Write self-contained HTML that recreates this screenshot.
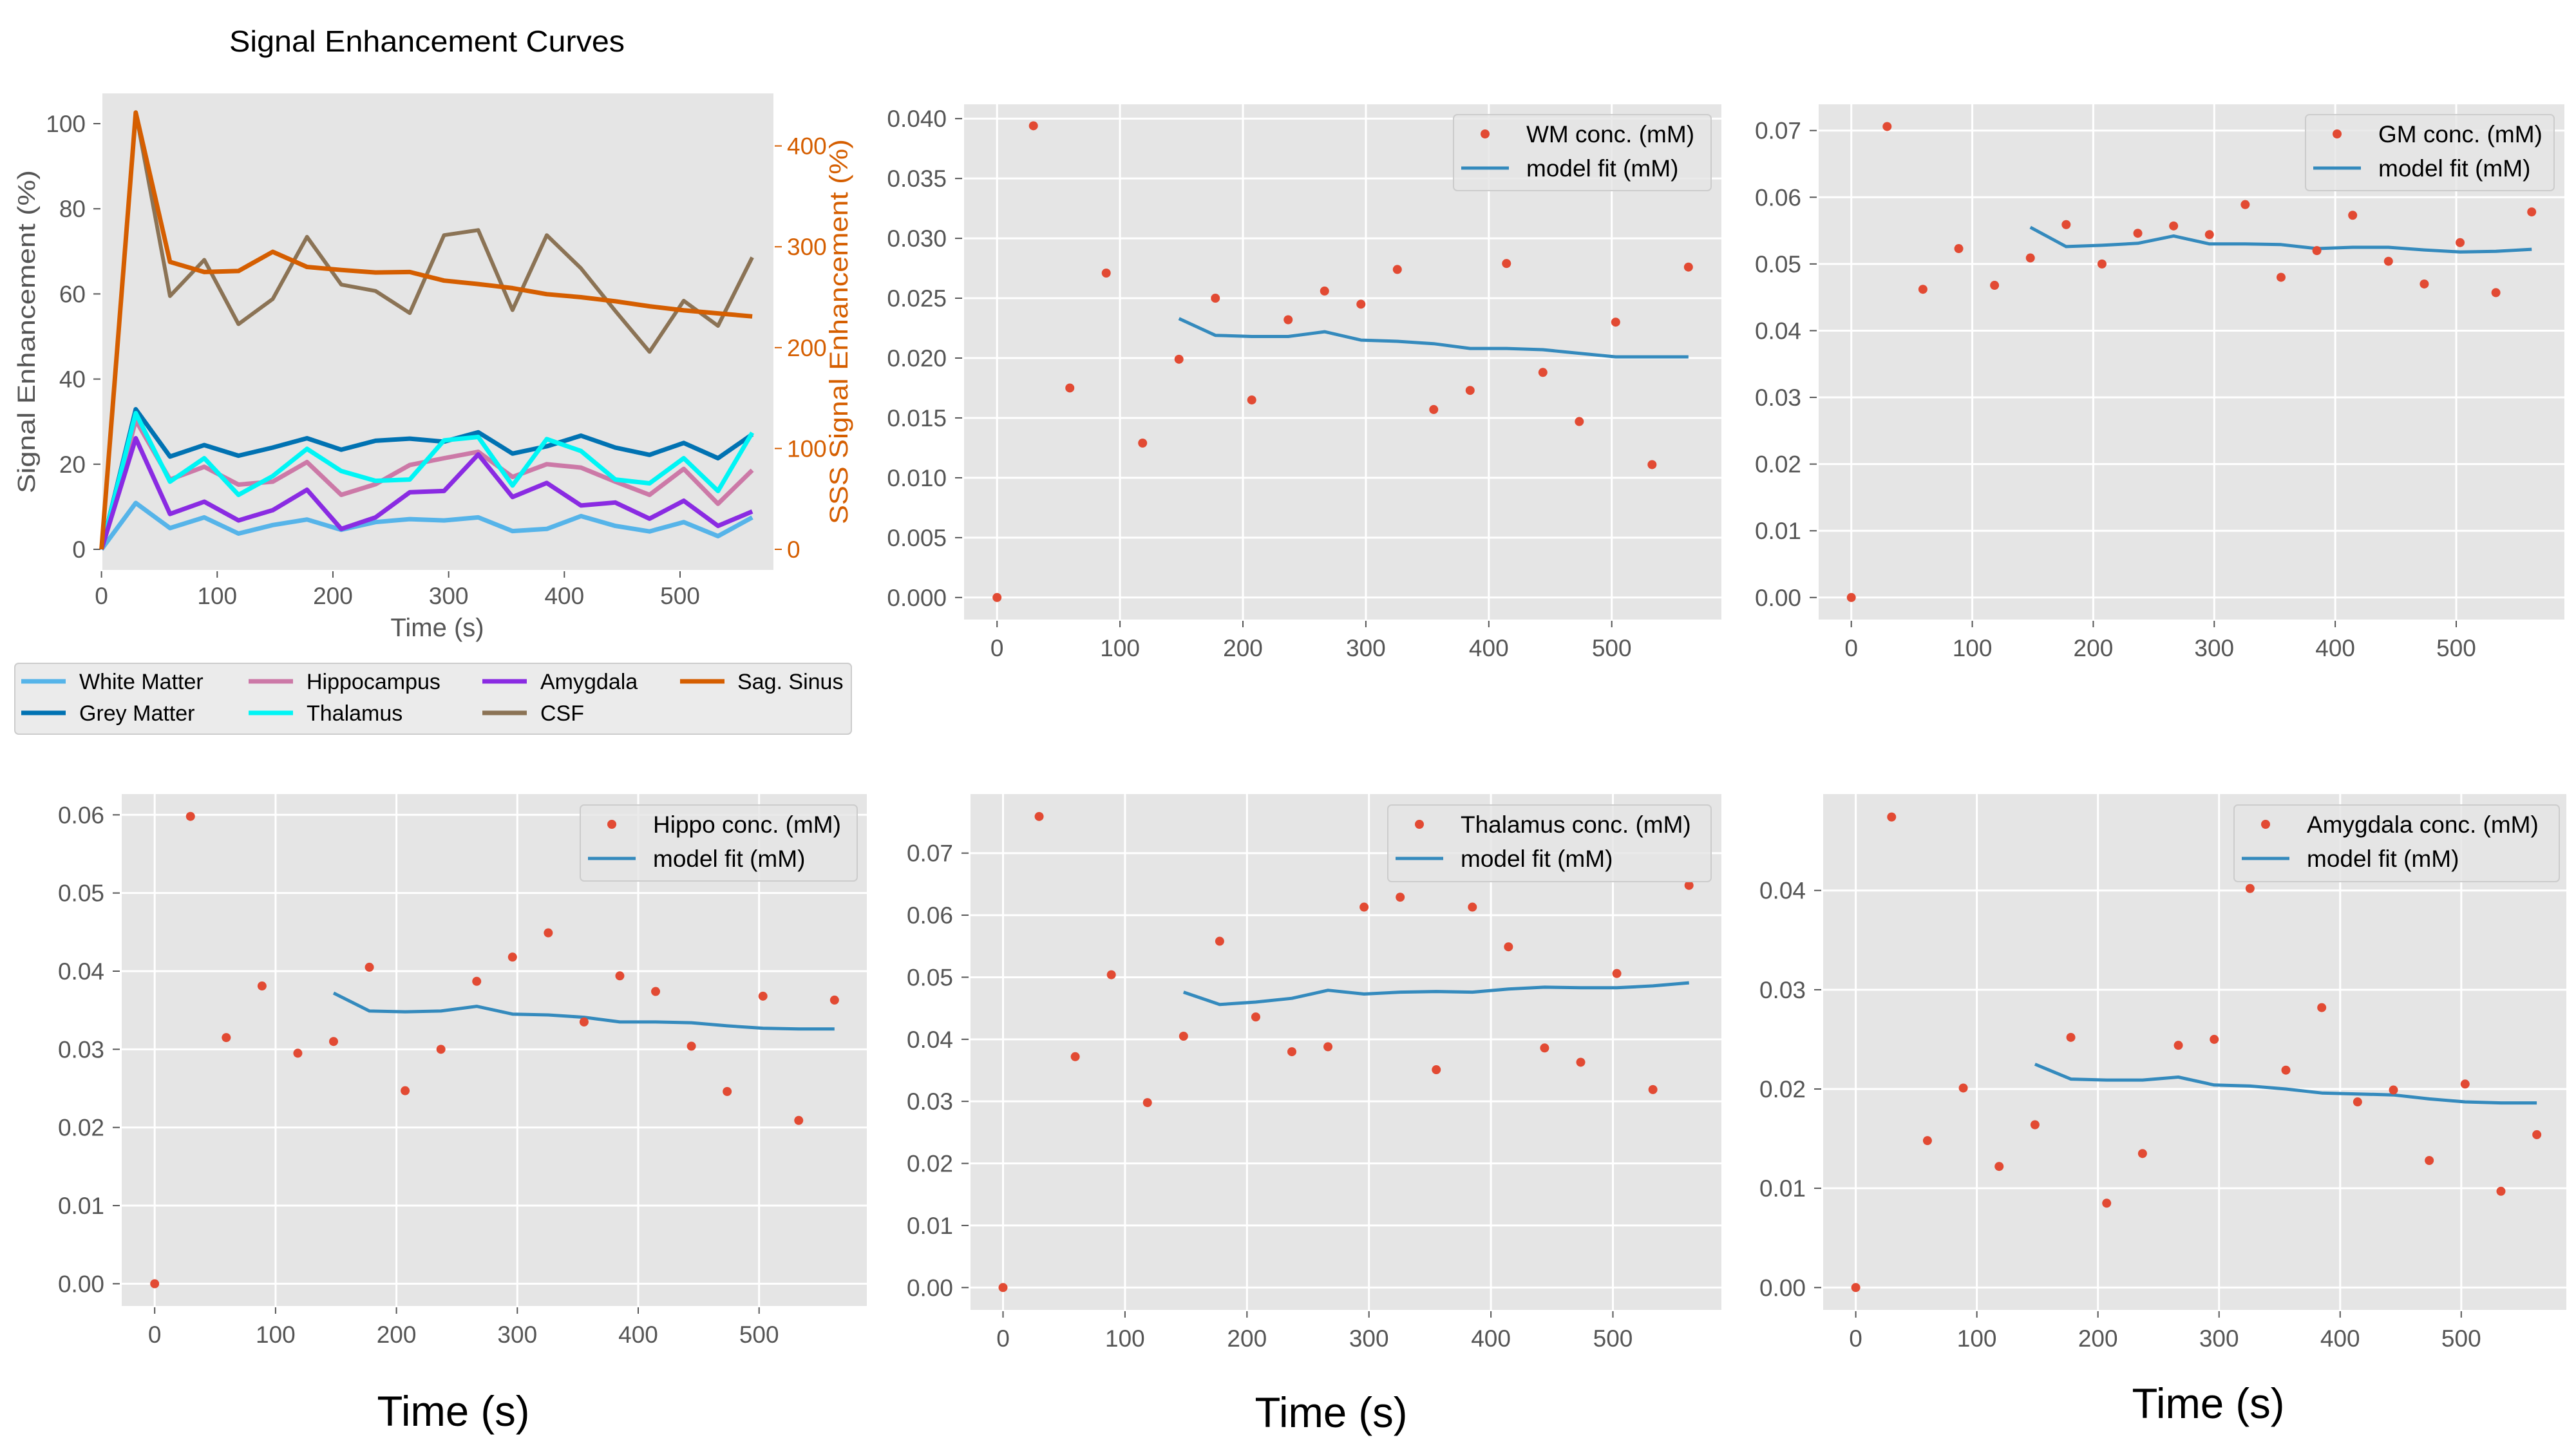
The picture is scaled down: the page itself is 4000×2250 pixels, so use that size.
<!DOCTYPE html>
<html><head><meta charset="utf-8"><style>
html,body{margin:0;padding:0;background:#fff;}
svg{display:block;font-family:"Liberation Sans",Arial,sans-serif;}
</style></head><body>
<svg id="chart" width="4000" height="2250" viewBox="0 0 4000 2250" xmlns="http://www.w3.org/2000/svg"></svg>
<script>
// ---------- data ----------
const times = [0,29.6,59.2,88.8,118.4,148,177.6,207.2,236.8,266.4,296,325.6,355.2,384.8,414.4,444,473.6,503.2,532.8,562.4];
const fitTimes = times.slice(5);
const xTicks = [0,100,200,300,400,500];

const seWhiteMatter = [0,10.9,5.0,7.5,3.7,5.7,7.0,4.6,6.4,7.1,6.8,7.5,4.3,4.8,7.8,5.5,4.2,6.4,3.1,7.5];
const seGreyMatter = [0,32.9,21.8,24.5,22.0,23.9,26.1,23.4,25.5,26.0,25.3,27.5,22.5,24.2,26.7,23.9,22.2,25.0,21.4,27.0];
const seHippocampus = [0,30.3,16.4,19.4,15.2,15.9,20.5,12.8,15.3,19.8,21.4,22.9,17.0,20.0,19.2,15.9,12.8,18.9,10.7,18.6];
const seThalamus = [0,32.0,15.9,21.4,12.8,17.2,23.6,18.4,16.1,16.4,25.6,26.4,15.0,25.9,23.1,16.4,15.5,21.4,13.7,27.4];
const seAmygdala = [0,26.1,8.3,11.2,6.8,9.2,14.0,4.8,7.5,13.4,13.7,22.3,12.3,15.6,10.3,11.0,7.2,11.4,5.5,8.9];
const seCSF = [0,102.7,59.5,68.0,52.9,58.8,73.4,62.2,60.7,55.5,73.8,75.0,56.2,73.8,66.0,56.0,46.4,58.4,52.5,68.6];
const seSagSinus = [0,433,285,275,276,295,280,277,274.5,275,266.5,263,259,253,250,246,241,237,234,231];
const leftYTicks = [0,20,40,60,80,100];
const rightYTicks = [0,100,200,300,400];

const wmConc = [0,0.0394,0.0175,0.0271,0.0129,0.0199,0.0250,0.0165,0.0232,0.0256,0.0245,0.0274,0.0157,0.0173,0.0279,0.0188,0.0147,0.0230,0.0111,0.0276];
const wmFit = [0.0233,0.0219,0.0218,0.0218,0.0222,0.0215,0.0214,0.0212,0.0208,0.0208,0.0207,0.0204,0.0201,0.0201,0.0201];
const wmYTicks = [0,0.005,0.010,0.015,0.020,0.025,0.030,0.035,0.040];

const gmConc = [0,0.0706,0.0462,0.0523,0.0468,0.0509,0.0559,0.0500,0.0546,0.0557,0.0544,0.0589,0.0480,0.0520,0.0573,0.0504,0.0470,0.0532,0.0457,0.0578];
const gmFit = [0.0555,0.0526,0.0528,0.0531,0.0542,0.0530,0.0530,0.0529,0.0523,0.0525,0.0525,0.0521,0.0518,0.0519,0.0522];
const gmYTicks = [0,0.01,0.02,0.03,0.04,0.05,0.06,0.07];

const hippoConc = [0,0.0598,0.0315,0.0381,0.0295,0.0310,0.0405,0.0247,0.0300,0.0387,0.0418,0.0449,0.0335,0.0394,0.0374,0.0304,0.0246,0.0368,0.0209,0.0363];
const hippoFit = [0.0372,0.0349,0.0348,0.0349,0.0355,0.0345,0.0344,0.0341,0.0335,0.0335,0.0334,0.0330,0.0327,0.0326,0.0326];
const hippoYTicks = [0,0.01,0.02,0.03,0.04,0.05,0.06];

const thalConc = [0,0.0759,0.0372,0.0504,0.0298,0.0405,0.0558,0.0436,0.0380,0.0388,0.0613,0.0629,0.0351,0.0613,0.0549,0.0386,0.0363,0.0506,0.0319,0.0648];
const thalFit = [0.0476,0.0456,0.0460,0.0466,0.0479,0.0473,0.0476,0.0477,0.0476,0.0481,0.0484,0.0483,0.0483,0.0486,0.0491];
const thalYTicks = [0,0.01,0.02,0.03,0.04,0.05,0.06,0.07];

const amygConc = [0,0.0474,0.0148,0.0201,0.0122,0.0164,0.0252,0.0085,0.0135,0.0244,0.0250,0.0402,0.0219,0.0282,0.0187,0.0199,0.0128,0.0205,0.0097,0.0154];
const amygFit = [0.0225,0.0210,0.0209,0.0209,0.0212,0.0204,0.0203,0.0200,0.0196,0.0195,0.0194,0.0190,0.0187,0.0186,0.0186];
const amygYTicks = [0,0.01,0.02,0.03,0.04];

// ---------- helpers ----------
const NS = 'http://www.w3.org/2000/svg';
const svg = document.getElementById('chart');
function mk(tag, attrs, parent){
  const e = document.createElementNS(NS, tag);
  for (const k in attrs) e.setAttribute(k, attrs[k]);
  (parent || svg).appendChild(e);
  return e;
}
function txt(str, attrs, parent){ const t = mk('text', attrs, parent); t.textContent = str; return t; }
function pts(xs, ys, sx, sy){ return xs.map((x,i)=>sx(x).toFixed(1)+','+sy(ys[i]).toFixed(1)).join(' '); }

// ---------- panel 1 ----------
(function(){
  const L=159,T=145,R=1201,B=885;
  const sx = v => 157.6 + v*(1056-157.6)/500;
  const sy = v => 853 - v*(853-192)/100;
  const sy2 = v => 853 - v*(853-226.6)/400;
  const g = mk('g',{});
  
  
  const bg = mk('rect',{x:L,y:T,width:R-L,height:B-T,fill:'#e5e5e5'},g);
   
  const title = txt('Signal Enhancement Curves',{x:663,y:80,'text-anchor':'middle','font-size':46,fill:'#000',textLength:614,lengthAdjust:'spacingAndGlyphs'},g);
   
  xTicks.forEach(v=>{
    mk('line',{x1:sx(v),x2:sx(v),y1:B+2,y2:B+12,stroke:'#555','stroke-width':2},g);
    const t = txt(String(v),{x:sx(v),y:938,'text-anchor':'middle','font-size':37,fill:'#555'},g);
     
  });
  leftYTicks.forEach(v=>{
    mk('line',{x1:L-14,x2:L-3,y1:sy(v),y2:sy(v),stroke:'#555','stroke-width':2},g);
    const t = txt(String(v),{x:133,y:sy(v)+13,'text-anchor':'end','font-size':37,fill:'#555'},g);
     
  });
  rightYTicks.forEach(v=>{
    mk('line',{x1:R+2,x2:R+13,y1:sy2(v),y2:sy2(v),stroke:'#D55E00','stroke-width':2},g);
    const t = txt(String(v),{x:1222,y:sy2(v)+13,'text-anchor':'start','font-size':37,fill:'#D55E00'},g);
     
  });
  const xl = txt('Time (s)',{x:679,y:988,'text-anchor':'middle','font-size':40,fill:'#555'},g);
   
  const yl = txt('Signal Enhancement (%)',{x:0,y:0,'text-anchor':'middle','font-size':38,fill:'#555',textLength:502,lengthAdjust:'spacingAndGlyphs',transform:'translate(54,515) rotate(-90)'},g);
   
  const yr = txt('SSS Signal Enhancement (%)',{x:0,y:0,'text-anchor':'middle','font-size':40,fill:'#D55E00',textLength:598,lengthAdjust:'spacingAndGlyphs',transform:'translate(1316,515) rotate(-90)'},g);
   

  const series = [
    ['white-matter-line', seWhiteMatter, '#56B4E9', sy],
    ['grey-matter-line', seGreyMatter, '#0072B2', sy],
    ['hippocampus-line', seHippocampus, '#CC79A7', sy],
    ['thalamus-line', seThalamus, '#00F5F5', sy],
    ['amygdala-line', seAmygdala, '#8A2BE2', sy],
    ['csf-line', seCSF, '#8B7355', sy],
    ['sag-sinus-line', seSagSinus, '#D55E00', sy2]
  ];
  // draw order: csf and sinus on top region; draw all
  series.forEach(s=>{
    const p = mk('polyline',{points:pts(times,s[1],sx,s[3]),fill:'none',stroke:s[2],'stroke-width':s[0]==='csf-line'?6:7,'stroke-linejoin':'round'},g);
    
    
  });

  // legend
  const lg = mk('g',{},g);
   
  mk('rect',{x:23,y:1030,width:1299,height:110,rx:6,fill:'#ebebeb',stroke:'#cccccc','stroke-width':2},lg);
  const entries = [
    ['White Matter','#56B4E9',33,123,1058],['Grey Matter','#0072B2',33,123,1107],
    ['Hippocampus','#CC79A7',386,476,1058],['Thalamus','#00F5F5',386,476,1107],
    ['Amygdala','#8A2BE2',749,839,1058],['CSF','#8B7355',749,839,1107],
    ['Sag. Sinus','#D55E00',1056,1145,1058]
  ];
  entries.forEach(e=>{
    const eg = mk('g',{},lg);
     
    mk('line',{x1:e[2],x2:e[2]+69,y1:e[4],y2:e[4],stroke:e[1],'stroke-width':7},eg);
    txt(e[0],{x:e[3],y:e[4]+12,'font-size':34,fill:'#000'},eg);
  });
})();

// ---------- concentration panels ----------
function concPanel(name, rect, xCal, yCal, conc, fit, yTicks, dec, legendBox, label, xlabelPos){
  const [L,T,R,B] = rect;
  const sx = v => xCal[0] + v*(xCal[1]-xCal[0])/500;
  const sy = v => yCal[0] - v*(yCal[0]-yCal[1])/yCal[2];
  const g = mk('g',{});
  
  
  const bg = mk('rect',{x:L,y:T,width:R-L,height:B-T,fill:'#e5e5e5'},g);
   
  xTicks.forEach(v=>{
    mk('line',{x1:sx(v),x2:sx(v),y1:T,y2:B,stroke:'#fff','stroke-width':3},g);
    mk('line',{x1:sx(v),x2:sx(v),y1:B+2,y2:B+12,stroke:'#555','stroke-width':2},g);
    const t = txt(String(v),{x:sx(v),y:B+57,'text-anchor':'middle','font-size':37,fill:'#555'},g);
     
  });
  yTicks.forEach(v=>{
    mk('line',{x1:L,x2:R,y1:sy(v),y2:sy(v),stroke:'#fff','stroke-width':3},g);
    mk('line',{x1:L-14,x2:L-3,y1:sy(v),y2:sy(v),stroke:'#555','stroke-width':2},g);
    const t = txt(v.toFixed(dec),{x:L-27,y:sy(v)+13,'text-anchor':'end','font-size':37,fill:'#555'},g);
     
  });
  const fl = mk('polyline',{points:pts(fitTimes,fit,sx,sy),fill:'none',stroke:'#348ABD','stroke-width':5,'stroke-linejoin':'round'},g);
   
  conc.forEach((v,i)=>{
    const c = mk('circle',{cx:sx(times[i]),cy:sy(v),r:7,fill:'#E24A33'},g);
    
    
  });
  const [lx,ly,lr,lb] = legendBox;
  const lg = mk('g',{},g);
   
  mk('rect',{x:lx,y:ly,width:lr-lx,height:lb-ly,rx:6,fill:'#e5e5e5','fill-opacity':0.8,stroke:'#cccccc','stroke-width':2},lg);
  const e1 = mk('g',{},lg);
   
  mk('circle',{cx:lx+49,cy:ly+30,r:7,fill:'#E24A33'},e1);
  txt(label,{x:lx+113,y:ly+43,'font-size':37,fill:'#000'},e1);
  const e2 = mk('g',{},lg);
   
  mk('line',{x1:lx+12,x2:lx+86,y1:ly+83,y2:ly+83,stroke:'#348ABD','stroke-width':5},e2);
  txt('model fit (mM)',{x:lx+113,y:ly+96,'font-size':37,fill:'#000'},e2);
  if (xlabelPos){
    const xl = txt('Time (s)',{x:xlabelPos[0],y:xlabelPos[1]+24,'text-anchor':'middle','font-size':66,fill:'#000',textLength:237,lengthAdjust:'spacingAndGlyphs'},g);
     
  }
}

concPanel('wm-panel',[1497,162,2673,962],[1548.2,2502.7],[927.8,184.2,0.04],wmConc,wmFit,wmYTicks,3,[2257,178,2657,296],'WM conc. (mM)',null);
concPanel('gm-panel',[2824,162,3982,962],[2874.7,3814],[927.8,202.7,0.07],gmConc,gmFit,gmYTicks,2,[3580,178,3966,296],'GM conc. (mM)',null);
concPanel('hippo-panel',[189,1233,1346,2028],[240.2,1178.7],[1993.4,1265.3,0.06],hippoConc,hippoFit,hippoYTicks,2,[901,1250,1331,1368],'Hippo conc. (mM)',[704,2190]);
concPanel('thalamus-panel',[1507,1233,2673,2034],[1557.5,2504.5],[1999.3,1324.7,0.07],thalConc,thalFit,thalYTicks,2,[2155,1250,2657,1369],'Thalamus conc. (mM)',[2067,2192]);
concPanel('amygdala-panel',[2831,1233,3985,2034],[2881.6,3821.8],[1999.3,1382.7,0.04],amygConc,amygFit,amygYTicks,2,[3469,1250,3974,1369],'Amygdala conc. (mM)',[3429,2178]);
</script>
</body></html>
